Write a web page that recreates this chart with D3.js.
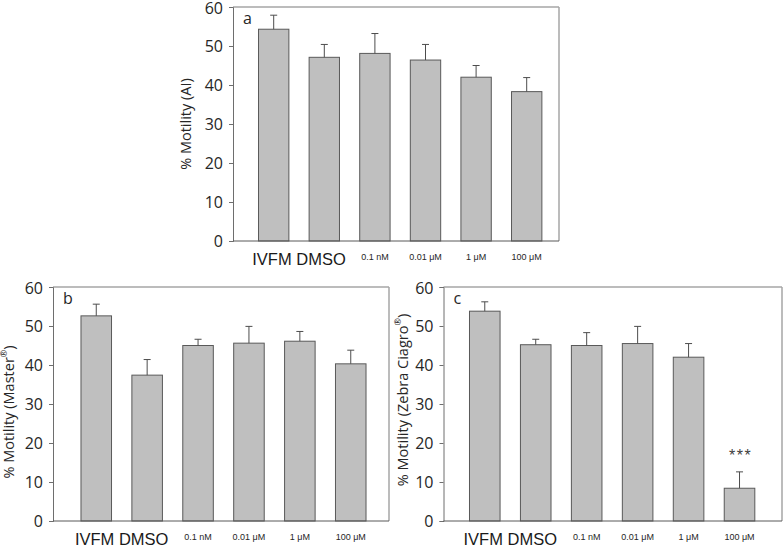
<!DOCTYPE html>
<html>
<head>
<meta charset="utf-8">
<script src="https://cdn.jsdelivr.net/npm/d3@7"></script>
<style>
  html, body { margin: 0; padding: 0; background: #fff; }
  svg { display: block; }
</style>
</head>
<body>
<svg id="chart" width="783" height="548"></svg>
<script>
// ---- data ----
const categories = ["IVFM", "DMSO", "0.1 nM", "0.01 \u03BCM", "1 \u03BCM", "100 \u03BCM"];
const yTicks = [0, 10, 20, 30, 40, 50, 60];
const meanAI = [54.3, 47.1, 48.1, 46.4, 42.0, 38.3];
const errAI = [3.6, 3.3, 5.1, 4.0, 3.0, 3.6];
const meanMaster = [52.6, 37.4, 45.0, 45.6, 46.1, 40.3];
const errMaster = [3.0, 4.0, 1.6, 4.3, 2.5, 3.5];
const meanZebra = [53.8, 45.2, 45.0, 45.5, 42.0, 8.4];
const errZebra = [2.4, 1.4, 3.3, 4.4, 3.5, 4.2];
const sigZebra = ["", "", "", "", "", "***"];

// ---- layout ----
const panels = [
  { letter: "a", title: "% Motility (AI)", sup: "", mean: meanAI, err: errAI, sig: null,
    left: 233, right: 559, top: 7, bottom: 241, bandStart: 248.4, bandEnd: 552, titleX: 187, titleY: 124 },
  { letter: "b", title: "% Motility (Master", sup: "\u00AE", mean: meanMaster, err: errMaster, sig: null,
    left: 53, right: 389, top: 287, bottom: 521, bandStart: 70.8, bandEnd: 376.2, titleX: 10, titleY: 412 },
  { letter: "c", title: "% Motility (Zebra Ciagro", sup: "\u00AE", mean: meanZebra, err: errZebra, sig: sigZebra,
    left: 443.5, right: 782, top: 287, bottom: 521, bandStart: 459.3, bandEnd: 765, titleX: 404, titleY: 400 }
];

const svg = d3.select("#chart");
const FONT = "'Open Sans', 'Noto Sans', sans-serif";

panels.forEach(p => {
  const g = svg.append("g");
  const x = d3.scaleBand().domain(categories).range([p.bandStart, p.bandEnd])
    .paddingInner(0.4).paddingOuter(0.2);
  const y = d3.scaleLinear().domain([0, 60]).range([p.bottom, p.top]);

  // frame: top and right light border
  g.append("line").attr("x1", p.left).attr("x2", p.right).attr("y1", p.top).attr("y2", p.top)
    .attr("stroke", "#a6a6a6").attr("stroke-width", 1.5);
  g.append("line").attr("x1", p.right).attr("x2", p.right).attr("y1", p.top).attr("y2", p.bottom)
    .attr("stroke", "#a6a6a6").attr("stroke-width", 1.5);

  // y axis
  const yAxis = d3.axisLeft(y).tickValues(yTicks).tickSize(4).tickPadding(6).tickFormat(d3.format("d"));
  const ya = g.append("g").attr("transform", `translate(${p.left},0)`).call(yAxis);
  ya.select(".domain").attr("stroke", "#6e6e6e");
  ya.selectAll(".tick line").attr("stroke", "#6e6e6e");
  ya.selectAll(".tick text").attr("font-family", FONT).attr("font-size", 16).attr("fill", "#262626")
    .attr("dy", d => d === 60 ? "0.40em" : "0.32em");

  // bars
  g.selectAll("rect.bar").data(p.mean).enter().append("rect")
    .attr("class", "bar")
    .attr("x", (d, i) => x(categories[i]))
    .attr("width", x.bandwidth())
    .attr("y", d => y(d))
    .attr("height", d => y(0) - y(d))
    .attr("fill", "#bfbfbf").attr("stroke", "#595959").attr("stroke-width", 1);

  // error bars (upper only)
  p.mean.forEach((m, i) => {
    const cx = x(categories[i]) + x.bandwidth() / 2;
    g.append("line").attr("x1", cx).attr("x2", cx).attr("y1", y(m)).attr("y2", y(m + p.err[i]))
      .attr("stroke", "#4d4d4d").attr("stroke-width", 1);
    g.append("line").attr("x1", cx - 3.5).attr("x2", cx + 3.5).attr("y1", y(m + p.err[i])).attr("y2", y(m + p.err[i]))
      .attr("stroke", "#4d4d4d").attr("stroke-width", 1);
    if (p.sig && p.sig[i]) {
      g.append("text").attr("x", cx + 1).attr("y", y(m + p.err[i]) - 11)
        .attr("text-anchor", "middle").attr("font-family", "'Liberation Sans', Arial, sans-serif")
        .attr("font-size", 16).attr("letter-spacing", 1.5).attr("fill", "#404040").text(p.sig[i]);
    }
  });

  // x axis baseline
  g.append("line").attr("x1", p.left).attr("x2", p.right).attr("y1", p.bottom).attr("y2", p.bottom)
    .attr("stroke", "#595959").attr("stroke-width", 1);

  // category labels
  const c0 = x(categories[0]) + x.bandwidth() / 2;
  const c1 = x(categories[1]) + x.bandwidth() / 2;
  g.append("text").attr("x", (c0 + c1) / 2).attr("y", p.bottom + 24)
    .attr("text-anchor", "middle").attr("font-family", "'Liberation Sans', Arial, sans-serif")
    .attr("font-size", 16.5).attr("fill", "#1a1a1a")
    .text(categories[0] + " " + categories[1]);
  categories.slice(2).forEach(c => {
    g.append("text").attr("x", x(c) + x.bandwidth() / 2).attr("y", p.bottom + 19)
      .attr("text-anchor", "middle").attr("font-family", "'Liberation Sans', Arial, sans-serif")
      .attr("font-size", 9).attr("fill", "#262626").text(c);
  });

  // panel letter
  g.append("text").attr("x", p.left + 10).attr("y", p.top + 17)
    .attr("font-family", FONT).attr("font-size", 16).attr("fill", "#262626").text(p.letter);

  // y title
  const t = g.append("text")
    .attr("transform", `translate(${p.titleX},${p.titleY}) rotate(-90)`)
    .attr("text-anchor", "middle").attr("dominant-baseline", "middle")
    .attr("font-family", FONT).attr("font-size", 14.5).attr("fill", "#262626");
  t.append("tspan").text(p.title);
  if (p.sup) {
    t.append("tspan").attr("font-size", 9).attr("dy", -5).text(p.sup);
    t.append("tspan").attr("dy", 5).text(")");
  }
});
</script>
</body>
</html>
